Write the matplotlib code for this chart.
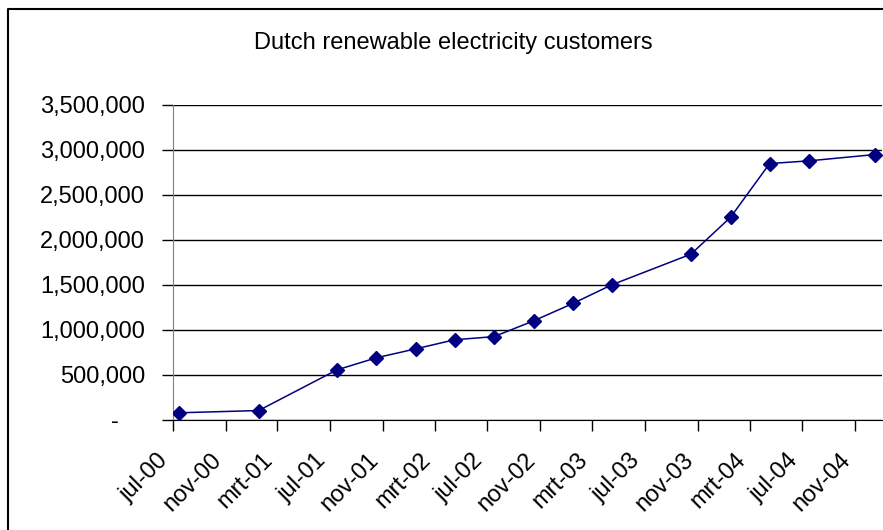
import pandas as pd
import matplotlib
matplotlib.use("Agg")
import matplotlib.pyplot as plt
import matplotlib.dates as mdates
from matplotlib.lines import Line2D
from matplotlib.ticker import FuncFormatter, MultipleLocator

# quarterly-ish customer counts (month of measurement)
months = ["2000-07", "2001-01", "2001-07", "2001-10", "2002-01", "2002-04",
          "2002-07", "2002-10", "2003-01", "2003-04", "2003-10", "2004-01",
          "2004-04", "2004-07", "2004-12"]
customers = [80000, 105000, 555000, 690000, 790000, 890000,
             925000, 1100000, 1295000, 1500000, 1840000, 2250000,
             2845000, 2875000, 2945000]

dutch_months = {3: "mrt", 7: "jul", 11: "nov"}
title = "Dutch renewable electricity customers"

plt.rcParams["font.family"] = ["Liberation Sans", "DejaVu Sans"]

# points sit in the middle of their month, like a month-based date axis
start = pd.to_datetime(months, format="%Y-%m")
mid = start + (start + pd.offsets.MonthBegin(1) - start) / 2

W, H = 883, 530
fig = plt.figure(figsize=(W / 100, H / 100), dpi=100)
ax = fig.add_axes([172.7 / W, 1 - 420 / H, (881.7 - 172.7) / W, (420 - 104.5) / H])

ax.plot(mid, customers, color="#000080", lw=1.1, marker="D", ms=6.8,
        mfc="#000080", mec="#000080", zorder=3)

ax.set_xlim(pd.Timestamp("2000-07-01"), pd.Timestamp("2005-01-01"))
ax.set_ylim(0, 3500000)

ax.yaxis.set_major_locator(MultipleLocator(500000))
ax.yaxis.set_major_formatter(FuncFormatter(lambda v, p: f"{v:,.0f}" if v else "-    "))


def month_label(v, p):
    d = mdates.num2date(v)
    return f"{dutch_months.get(d.month, d.strftime('%b').lower())}-{d:%y}"


ax.xaxis.set_major_locator(mdates.MonthLocator(bymonth=[3, 7, 11]))
ax.xaxis.set_major_formatter(FuncFormatter(month_label))

ax.grid(axis="y", color="black", lw=1)
ax.set_axisbelow(True)
for side in ("top", "right"):
    ax.spines[side].set_visible(False)
ax.spines["left"].set_color("#808080")
ax.spines["bottom"].set_color("black")

ax.tick_params(axis="both", direction="out", length=8, width=1, color="black", labelsize=17)
ax.tick_params(axis="y", pad=12)
ax.tick_params(axis="x", pad=13, labelrotation=45)
for lbl in ax.get_xticklabels():
    lbl.set_horizontalalignment("right")

# chart frame (left and top edges visible)
fig.add_artist(Line2D([8 / W, 8 / W, 1.01], [-0.01, 1 - 9 / H, 1 - 9 / H],
                      transform=fig.transFigure, color="black", lw=1.5))

fig.text(453 / W, 1 - 43 / H, title, ha="center", va="center", fontsize=17)

fig.savefig("out.png", dpi=100)
